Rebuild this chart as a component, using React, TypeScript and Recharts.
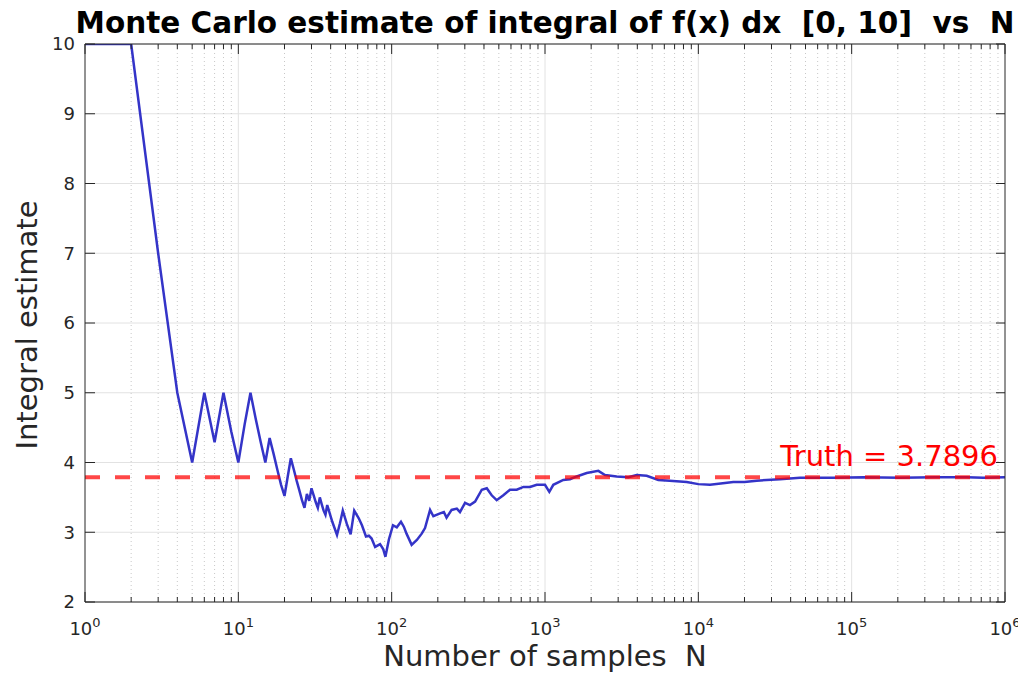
import React from 'react';
import { LineChart, Line, XAxis, YAxis, CartesianGrid, ReferenceLine } from 'recharts';

// ---- data ----
const sampleN = [
  1, 2, 3, 4, 5, 6, 7, 8, 9, 10, 11, 12, 13, 14, 15, 16, 17, 18, 19, 20,
  21, 22, 23, 24, 25, 26, 27, 28, 29, 30, 31, 32, 33, 34, 35, 36, 37, 38,
  41, 44, 46, 48, 51, 54, 57, 61, 64, 68, 71, 74, 78, 84, 88, 91, 96,
  102, 108, 115, 120, 125, 135, 146, 157, 165, 178, 187, 207, 219, 228, 246,
  266, 279, 301, 324, 350, 387, 417, 449, 484, 535, 591, 654, 723, 799, 883,
  1000, 1067, 1133, 1316, 1455, 1610, 1871, 2228, 2462, 2935, 3494, 3963,
  4605, 5483, 6500, 8395, 10000, 11912, 14000, 16906, 20000, 24040, 34120,
  46030, 75900, 120000, 206500, 350000, 562300, 722000, 1000000,
];
const estimate = [
  10, 10, 7.0, 5.0, 4.0, 5.0, 4.29, 5.0, 4.44, 4.0, 4.55, 5.0, 4.62, 4.29, 4.0, 4.35, 4.12, 3.89, 3.68, 3.52,
  3.8, 4.06, 3.9, 3.74, 3.6, 3.46, 3.35, 3.55, 3.45, 3.63, 3.53, 3.43, 3.35, 3.5, 3.4, 3.31, 3.25, 3.39,
  3.15, 2.96, 3.13, 3.31, 3.12, 2.97, 3.31, 3.2, 3.1, 2.94, 2.95, 2.91, 2.79, 2.83, 2.76, 2.65, 2.9,
  3.1, 3.07, 3.15, 3.08, 2.98, 2.82, 2.89, 2.98, 3.06, 3.32, 3.23, 3.27, 3.29, 3.21, 3.32,
  3.34, 3.29, 3.42, 3.39, 3.44, 3.61, 3.63, 3.53, 3.46, 3.53, 3.61, 3.61, 3.65, 3.65, 3.68,
  3.68, 3.58, 3.68, 3.75, 3.76, 3.8, 3.85, 3.88, 3.82, 3.8, 3.79, 3.82,
  3.81, 3.75, 3.74, 3.72, 3.69, 3.68, 3.7, 3.72, 3.72, 3.74, 3.76,
  3.78, 3.78, 3.79, 3.78, 3.79, 3.79, 3.78, 3.79,
];
const truthValue = 3.7896;
const truthLabel = 'Truth = 3.7896';
const xDecades = [1, 10, 100, 1000, 10000, 100000, 1000000];
const xDecadeExponents = ['0', '1', '2', '3', '4', '5', '6'];
const minorMultipliers = [2, 3, 4, 5, 6, 7, 8, 9];
const yTicks = [2, 3, 4, 5, 6, 7, 8, 9, 10];
const yTickLabels = ['2', '3', '4', '5', '6', '7', '8', '9', '10'];
const titleText = 'Monte Carlo estimate of integral of f(x) dx  [0, 10]  vs  N';
const xLabelText = 'Number of samples  N';
const yLabelText = 'Integral estimate';

const data = sampleN.map((n, i) => ({ N: n, est: estimate[i] }));
const xMinor = xDecades.slice(0, -1).flatMap((d) => minorMultipliers.map((m) => m * d));
const xAllTicks = [...xDecades, ...xMinor].sort((a, b) => a - b);

const W = 1018;
const H = 664;
const AX = '#262626';
const FONT = 'DejaVu Sans';

const BottomTick = (props: any) => {
  const { x, y, payload } = props;
  const idx = xDecades.indexOf(payload.value);
  const len = idx >= 0 ? 10 : 5;
  return (
    <g>
      <line x1={x} x2={x} y1={y} y2={y - len} stroke={AX} strokeWidth={1} />
      {idx >= 0 && (
        <text x={x} y={y + 33} textAnchor="middle" fontFamily={FONT} fontSize={18} fill={AX}>
          10
          <tspan dy={-8} fontSize={13}>
            {xDecadeExponents[idx]}
          </tspan>
        </text>
      )}
    </g>
  );
};

const TopTick = (props: any) => {
  const { x, y, payload } = props;
  const idx = xDecades.indexOf(payload.value);
  const len = idx >= 0 ? 10 : 5;
  return <line x1={x} x2={x} y1={y} y2={y + len} stroke={AX} strokeWidth={1} />;
};

const LeftTick = (props: any) => {
  const { x, y, payload } = props;
  const idx = yTicks.indexOf(payload.value);
  return (
    <g>
      <line x1={x} x2={x + 10} y1={y} y2={y} stroke={AX} strokeWidth={1} />
      <text x={x - 10} y={y} dy="0.36em" textAnchor="end" fontFamily={FONT} fontSize={18} fill={AX}>
        {yTickLabels[idx]}
      </text>
    </g>
  );
};

const RightTick = (props: any) => {
  const { x, y } = props;
  return <line x1={x} x2={x - 9} y1={y} y2={y} stroke={AX} strokeWidth={1} />;
};

const TruthText = (props: any) => {
  const vb = props.viewBox || {};
  return (
    <text
      x={vb.x + vb.width - 7}
      y={vb.y - 11}
      textAnchor="end"
      fontFamily={FONT}
      fontSize={29}
      fill="#ff0000"
    >
      {truthLabel}
    </text>
  );
};

export default function App() {
  return (
    <div style={{ position: 'relative', width: W, height: H, background: '#fff' }}>
      <LineChart width={W} height={H} data={data} margin={{ top: 26, right: 11, bottom: 10, left: 17 }}>
        <CartesianGrid vertical={false} stroke="#e2e2e2" strokeWidth={1} />
        {xMinor.map((v) => (
          <ReferenceLine key={'m' + v} x={v} stroke="#c8c8c8" strokeWidth={1} strokeDasharray="1 3" />
        ))}
        {xDecades.slice(1, -1).map((v) => (
          <ReferenceLine key={'d' + v} x={v} stroke="#e2e2e2" strokeWidth={1} />
        ))}
        <XAxis
          dataKey="N"
          type="number"
          scale="log"
          domain={[1, 1000000]}
          ticks={xAllTicks}
          interval={0}
          height={60}
          tickSize={0}
          tickMargin={0}
          tickLine={false}
          axisLine={{ stroke: AX, strokeWidth: 1 }}
          tick={<BottomTick />}
          allowDataOverflow
        />
        <XAxis
          xAxisId="top"
          orientation="top"
          dataKey="N"
          type="number"
          scale="log"
          domain={[1, 1000000]}
          ticks={xAllTicks}
          interval={0}
          height={10}
          tickSize={0}
          tickMargin={0}
          tickLine={false}
          axisLine={{ stroke: AX, strokeWidth: 1 }}
          tick={<TopTick />}
          allowDataOverflow
        />
        <YAxis
          type="number"
          domain={[2, 10]}
          ticks={yTicks}
          interval={0}
          width={60}
          tickSize={0}
          tickMargin={0}
          tickLine={false}
          axisLine={{ stroke: AX, strokeWidth: 1 }}
          tick={<LeftTick />}
          allowDataOverflow
        />
        <YAxis
          yAxisId="right"
          orientation="right"
          type="number"
          domain={[2, 10]}
          ticks={yTicks}
          interval={0}
          width={10}
          tickSize={0}
          tickMargin={0}
          tickLine={false}
          axisLine={{ stroke: AX, strokeWidth: 1 }}
          tick={<RightTick />}
          allowDataOverflow
        />
        <Line
          xAxisId="top"
          yAxisId="right"
          dataKey="est"
          stroke="none"
          dot={false}
          activeDot={false}
          isAnimationActive={false}
        />
        <Line
          type="linear"
          dataKey="est"
          stroke="#3434c8"
          strokeWidth={2.5}
          dot={false}
          activeDot={false}
          isAnimationActive={false}
        />
        <ReferenceLine
          y={truthValue}
          stroke="#ff0000"
          strokeOpacity={0.72}
          strokeWidth={4}
          strokeDasharray="15 15"
          label={<TruthText />}
        />
      </LineChart>
      <svg
        width={W}
        height={H}
        style={{ position: 'absolute', left: 0, top: 0, pointerEvents: 'none', overflow: 'visible' }}
      >
        <text
          x={537}
          y={25}
          textAnchor="middle"
          fontFamily={FONT}
          fontWeight="bold"
          fontSize={29.5}
          fill="#000"
          style={{ whiteSpace: 'pre' }}
        >
          {titleText}
        </text>
        <text
          x={537}
          y={658}
          textAnchor="middle"
          fontFamily={FONT}
          fontSize={29}
          fill={AX}
          style={{ whiteSpace: 'pre' }}
        >
          {xLabelText}
        </text>
        <text
          transform="translate(29,317) rotate(-90)"
          textAnchor="middle"
          fontFamily={FONT}
          fontSize={29}
          fill={AX}
        >
          {yLabelText}
        </text>
      </svg>
    </div>
  );
}
